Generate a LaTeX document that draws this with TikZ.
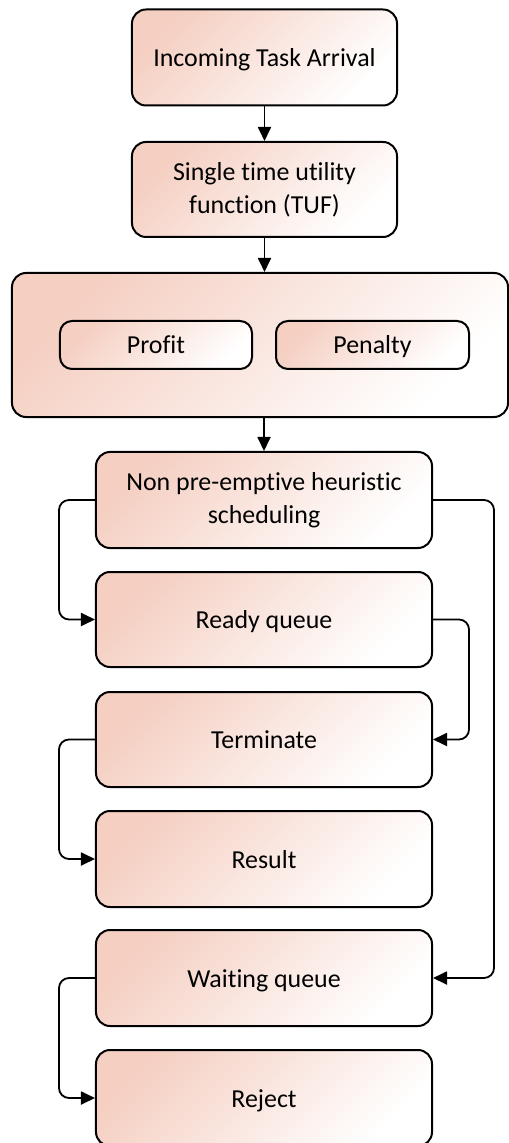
\documentclass[tikz,border=0pt]{standalone}
\usepackage{fontspec}
\setmainfont{Carlito}[Ligatures={NoCommon,NoContextual},Contextuals=NoAlternate]
\usetikzlibrary{arrows.meta}
\definecolor{boxpink}{RGB}{245,207,194}
\begin{document}
\begin{tikzpicture}[x=0.5bp,y=-0.5bp,
    box/.style={draw=black,line width=1bp,rounded corners=7bp,
      top color=boxpink,bottom color=white,middle color=boxpink!50,
      shading angle=45,
      align=center,inner sep=0pt,
      font=\fontsize{13}{16.5}\selectfont},
    single/.style={box,text height=10.5bp,text depth=1.5bp},
    link/.style={line width=0.9bp,rounded corners=5bp,
      -{Triangle[length=7bp,width=6.5bp]}}]
    \useasboundingbox (0,0) rectangle (509,1143);

    \node[single,minimum width=132.5bp,minimum height=48bp] (arrival) at (264.5,57.5) {Incoming Task Arrival};
    \node[box,minimum width=132.5bp,minimum height=47.5bp] (tuf) at (264.5,189.5) {Single time utility\\function (TUF)};

    \node[box,minimum width=248bp,minimum height=72bp] (utility) at (260,345) {};
    \node[single,rounded corners=6bp,minimum width=96bp,minimum height=24bp] (profit) at (156,345) {Profit};
    \node[single,rounded corners=6bp,minimum width=96.5bp,minimum height=24bp] (penalty) at (372.5,345) {Penalty};

    \node[box,minimum width=168bp,minimum height=48bp] (sched) at (264,500) {Non pre-emptive heuristic\\scheduling};
    \node[single,minimum width=168bp,minimum height=47.5bp] (ready) at (264,619.5) {Ready queue};
    \node[single,minimum width=168bp,minimum height=47.5bp] (terminate) at (264,739.5) {Terminate};
    \node[single,minimum width=168bp,minimum height=48bp] (result) at (264,859) {Result};
    \node[single,minimum width=168bp,minimum height=48bp] (waiting) at (264,978) {Waiting queue};
    \node[single,minimum width=168bp,minimum height=48bp] (reject) at (264,1098) {Reject};

    \draw[link] (arrival.south) -- (tuf.north);
    \draw[link] (tuf.south) -- (tuf.south |- utility.north);
    \draw[link] (sched.north |- utility.south) -- (sched.north);

    \draw[link] (sched.west) -- ++(-36,0) |- (ready.west);
    \draw[link] (sched.east) -- ++(61,0) |- (waiting.east);
    \draw[link] (ready.east) -- ++(36,0) |- (terminate.east);
    \draw[link] (terminate.west) -- ++(-36,0) |- (result.west);
    \draw[link] (waiting.west) -- ++(-36,0) |- (reject.west);
\end{tikzpicture}
\end{document}
